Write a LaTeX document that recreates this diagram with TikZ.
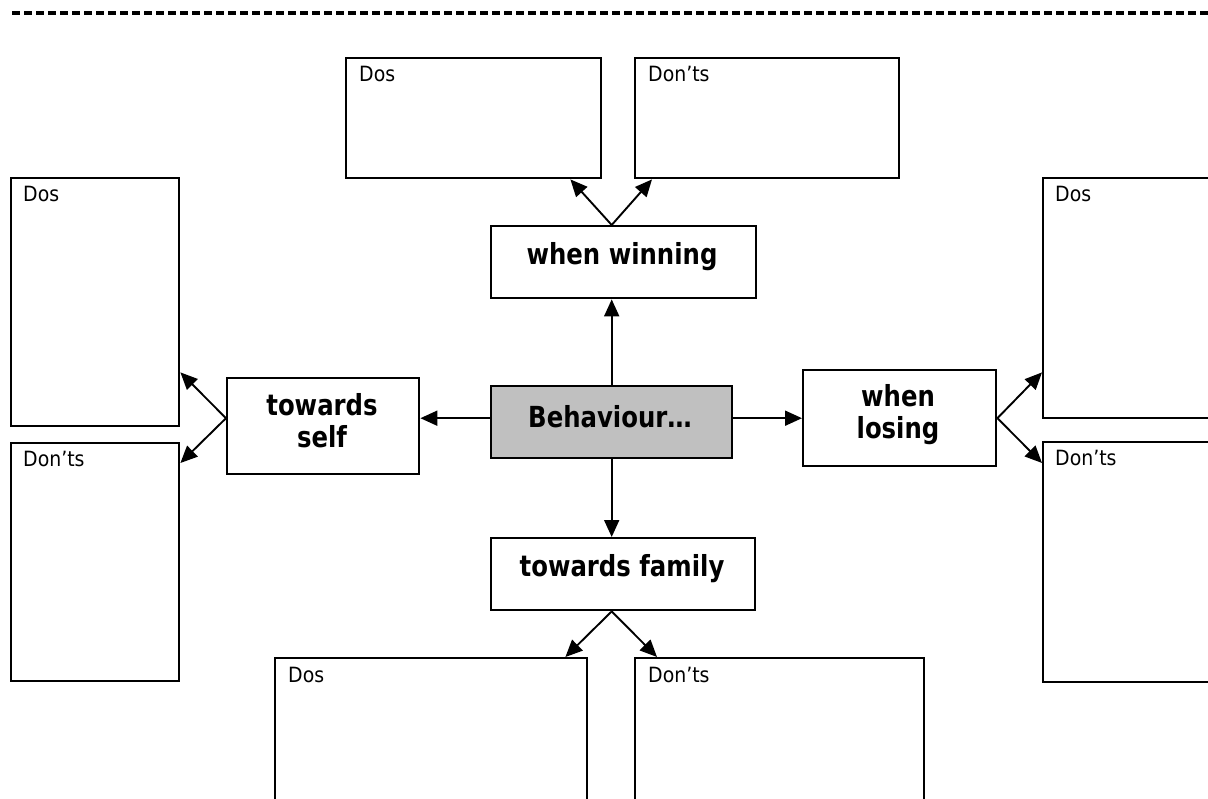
\documentclass[tikz,border=0pt]{standalone}
\usepackage{fontspec}
\setmainfont{DejaVu Sans}[FakeStretch=0.9]
\newfontfamily\labfont{DejaVu Sans}[FakeStretch=0.84]
\usetikzlibrary{arrows.meta,calc}
\definecolor{behgray}{RGB}{192,192,192}
\tikzset{
  box/.style={draw=black, line width=2.4pt, rectangle, inner sep=0pt, anchor=north west, fill=white},
  conn/.style={line width=1.9pt, -{Triangle[length=17pt,width=15pt]}},
  lab/.style={font=\labfont\fontsize{29}{32.5}\selectfont\bfseries, align=center, inner sep=0pt},
  small/.style={font=\fontsize{21}{24}\selectfont, anchor=base west, inner sep=0pt}
}
\begin{document}
\begin{tikzpicture}[x=1pt,y=-1pt]
\useasboundingbox (0,0) rectangle (1208,799);
\fill[white] (0,0) rectangle (1208,799);
\clip (0,0) rectangle (1208,799);
\draw[line width=3.8pt, dash pattern=on 8pt off 4pt] (12,13) -- (1208,13);

% boxes
\node[box, minimum width=255, minimum height=120] (tdo) at (345,57) {};
\node[box, minimum width=264, minimum height=120] (tdn) at (634,57) {};
\node[box, minimum width=265, minimum height=72] (win) at (490,225) {};
\node[box, minimum width=241, minimum height=72, fill=behgray] (beh) at (490,385) {};
\node[box, minimum width=192, minimum height=96] (self) at (226,377) {};
\node[box, minimum width=193, minimum height=96] (lose) at (802,369) {};
\node[box, minimum width=264, minimum height=72] (fam) at (490,537) {};
\node[box, minimum width=168, minimum height=248] (ldo) at (10,177) {};
\node[box, minimum width=168, minimum height=238] (ldn) at (10,442) {};
\node[box, minimum width=200, minimum height=240] (rdo) at (1042,177) {};
\node[box, minimum width=200, minimum height=240] (rdn) at (1042,441) {};
\node[box, minimum width=312, minimum height=200] (bdo) at (274,657) {};
\node[box, minimum width=289, minimum height=200] (bdn) at (634,657) {};

% labels
\node[lab, anchor=base] (wint) at (622,265) {when winning};
\node[lab, anchor=base] (beht) at (610,428) {Behaviour\ldots};
\node[lab, anchor=base] (selft) at (322,448) {towards\\self};
\node[lab, anchor=base] (loset) at (898,439) {when\\losing};
\node[lab, anchor=base] (famt) at (622,576) {towards family};

\node[small] (tdot) at ($(tdo.north west)+(14,25)$) {Dos};
\node[small] (tdnt) at ($(tdn.north west)+(14,25)$) {Don’ts};
\node[small] (ldot) at ($(ldo.north west)+(13,25)$) {Dos};
\node[small] (ldnt) at ($(ldn.north west)+(13,25)$) {Don’ts};
\node[small] (rdot) at ($(rdo.north west)+(13,25)$) {Dos};
\node[small] (rdnt) at ($(rdn.north west)+(13,25)$) {Don’ts};
\node[small] (bdot) at ($(bdo.north west)+(14,25)$) {Dos};
\node[small] (bdnt) at ($(bdn.north west)+(14,25)$) {Don’ts};

% connectors from centre
\draw[conn] (beh.north) -- (beh.north |- win.south);
\draw[conn] (beh.south) -- (beh.south |- fam.north);
\draw[conn] (beh.east |- lose.west) -- (lose.west);
\draw[conn] (beh.west |- lose.west) -- (self.east |- lose.west);

% branches
\coordinate (wo) at (beh.north |- win.north);
\draw[conn] (wo) -- ($(tdo.south east)+(-32,0)$);
\draw[conn] (wo) -- ($(tdn.south west)+(18,0)$);
\coordinate (fo) at (beh.south |- fam.south);
\draw[conn] (fo) -- ($(bdo.north east)+(-23,0)$);
\draw[conn] (fo) -- ($(bdn.north west)+(23,0)$);
\coordinate (so) at (self.west |- lose.west);
\draw[conn] (so) -- ($(ldo.south east)+(0,-55)$);
\draw[conn] (so) -- ($(ldn.north east)+(0,21)$);
\draw[conn] (lose.east) -- ($(rdo.south west)+(0,-47)$);
\draw[conn] (lose.east) -- ($(rdn.north west)+(0,22)$);
\end{tikzpicture}
\end{document}
